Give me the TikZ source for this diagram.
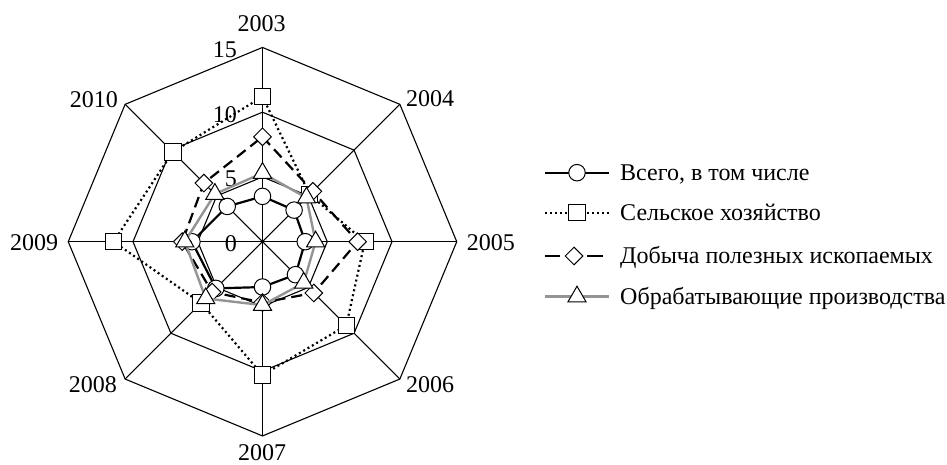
\documentclass[tikz,border=0pt]{standalone}
\usepackage{fontspec}
\setmainfont{Liberation Serif}
\usetikzlibrary{shapes.geometric,calc}
\begin{document}
\begin{tikzpicture}[x=1pt,y=1pt,
  gridline/.style={line width=1.1pt, black, line join=miter},
  s1/.style={line width=2.2pt, black, line join=round},
  s2/.style={line width=2.2pt, black, dash pattern=on 2pt off 3pt},
  s3/.style={line width=2.2pt, black, dash pattern=on 11pt off 6pt},
  s4/.style={line width=2.4pt, black!42, line join=round},
  mk/.style={draw=black, fill=white, line width=1pt, inner sep=0pt},
  mcirc/.style={mk, circle, minimum size=16.5pt},
  msq/.style={mk, rectangle, minimum size=16.5pt},
  mdia/.style={mk, diamond, minimum size=18pt},
  mtri/.style={mk, regular polygon, regular polygon sides=3, minimum size=21pt},
  lbl/.style={font=\fontsize{24}{28}\selectfont, inner sep=0pt},
]
\useasboundingbox (0,0) rectangle (947,465);
\coordinate (C) at (262.5,223.3);
% grid
\foreach \i in {1,...,8}{
  \coordinate (v\i) at ($(C)+({135-45*\i}:194.25)$);
  \coordinate (w\i) at ($(C)+({135-45*\i}:129.5)$);
  \coordinate (u\i) at ($(C)+({135-45*\i}:64.75)$);
}
\foreach \i in {1,...,8} \draw[gridline] (C) -- (v\i);
\draw[gridline] (v1)--(v2)--(v3)--(v4)--(v5)--(v6)--(v7)--(v8)--cycle;
\draw[gridline] (w1)--(w2)--(w3)--(w4)--(w5)--(w6)--(w7)--(w8)--cycle;
\draw[gridline] (u1)--(u2)--(u3)--(u4)--(u5)--(u6)--(u7)--(u8)--cycle;
% scale labels
\node[lbl, anchor=east] (t0) at (237,221.3) {0};
\node[lbl, anchor=east] (t5) at (237,286) {5};
\node[lbl, anchor=east] (t10) at (237,350.5) {10};
\node[lbl, anchor=east] (t15) at (237,415.5) {15};
% year labels
\node[lbl, anchor=base] (y1) at ($(v1)+(-1,16)$) {2003};
\node[lbl, anchor=base west] (y2) at ($(v2)+(6,-2.4)$) {2004};
\node[lbl, anchor=west] (y3) at ($(v3)+(10,-1.3)$) {2005};
\node[lbl, anchor=west] (y4) at ($(v4)+(6,-6)$) {2006};
\node[lbl, anchor=base] (y5) at (262,4) {2007};
\node[lbl, anchor=east] (y6) at ($(v6)+(-8,-6)$) {2008};
\node[lbl, anchor=east] (y7) at ($(v7)+(-10,-1.3)$) {2009};
\node[lbl, anchor=base east] (y8) at ($(v8)+(-7,-2.7)$) {2010};
% data
\foreach \v [count=\i] in {3.5,3.45,3.3,3.6,3.5,5.1,5.45,3.85}
  \coordinate (a\i) at ($(C)+({135-45*\i}:{\v*12.95})$);
\foreach \v [count=\i] in {11.2,5.15,7.9,9.15,10.3,6.7,11.5,9.8}
  \coordinate (b\i) at ($(C)+({135-45*\i}:{\v*12.95})$);
\foreach \v [count=\i] in {8.1,5.5,7.35,5.6,4.7,5.5,6.2,6.4}
  \coordinate (c\i) at ($(C)+({135-45*\i}:{\v*12.95})$);
\foreach \v [count=\i] in {5.3,4.8,4.1,4.5,4.9,6.2,6.0,5.2}
  \coordinate (d\i) at ($(C)+({135-45*\i}:{\v*12.95})$);
% series 1
\draw[s1] (a1)--(a2)--(a3)--(a4)--(a5)--(a6)--(a7)--(a8)--cycle;
\foreach \i in {1,...,8} \node[mcirc] (ma\i) at (a\i) {};
% series 2
\draw[s2] (b1)--(b2)--(b3)--(b4)--(b5)--(b6)--(b7)--(b8)--cycle;
\foreach \i in {1,...,8} \node[msq] (mb\i) at (b\i) {};
% series 3
\draw[s3] (c1)--(c2)--(c3)--(c4)--(c5)--(c6)--(c7)--(c8)--cycle;
\foreach \i in {1,...,8} \node[mdia] (mc\i) at (c\i) {};
% series 4
\draw[s4] (d1)--(d2)--(d3)--(d4)--(d5)--(d6)--(d7)--(d8)--cycle;
\foreach \i in {1,...,8} \node[mtri] (md\i) at (d\i) {};
% legend
\coordinate (l1a) at (545,292.3); \coordinate (l1b) at (609,292.3);
\draw[s1] (l1a) -- (l1b);
\node[mcirc] (lm1) at (577,292.3) {};
\node[lbl, anchor=base west] (lt1) at (620,284.4) {Всего, в том числе};
\coordinate (l2a) at (545,252.3); \coordinate (l2b) at (568,252.3);
\coordinate (l2c) at (587,252.3); \coordinate (l2d) at (609,252.3);
\draw[s2] (l2a) -- (l2b);
\draw[s2] (l2c) -- (l2d);
\node[msq] (lm2) at (577,252.3) {};
\node[lbl, anchor=base west] (lt2) at (620,244.4) {Сельское хозяйство};
\coordinate (l3a) at (545,209); \coordinate (l3b) at (560,209);
\coordinate (l3c) at (587,209); \coordinate (l3d) at (603,209);
\draw[line width=2.2pt] (l3a) -- (l3b);
\draw[line width=2.2pt] (l3c) -- (l3d);
\node[mdia] (lm3) at (574,209) {};
\node[lbl, anchor=base west] (lt3) at (620,201.1) {Добыча полезных ископаемых};
\coordinate (l4a) at (545,168.3); \coordinate (l4b) at (609,168.3);
\draw[s4] (l4a) -- (l4b);
\node[mtri] (lm4) at (577,168.3) {};
\node[lbl, anchor=base west] (lt4) at (620,160.4) {Обрабатывающие производства};
\end{tikzpicture}
\end{document}
